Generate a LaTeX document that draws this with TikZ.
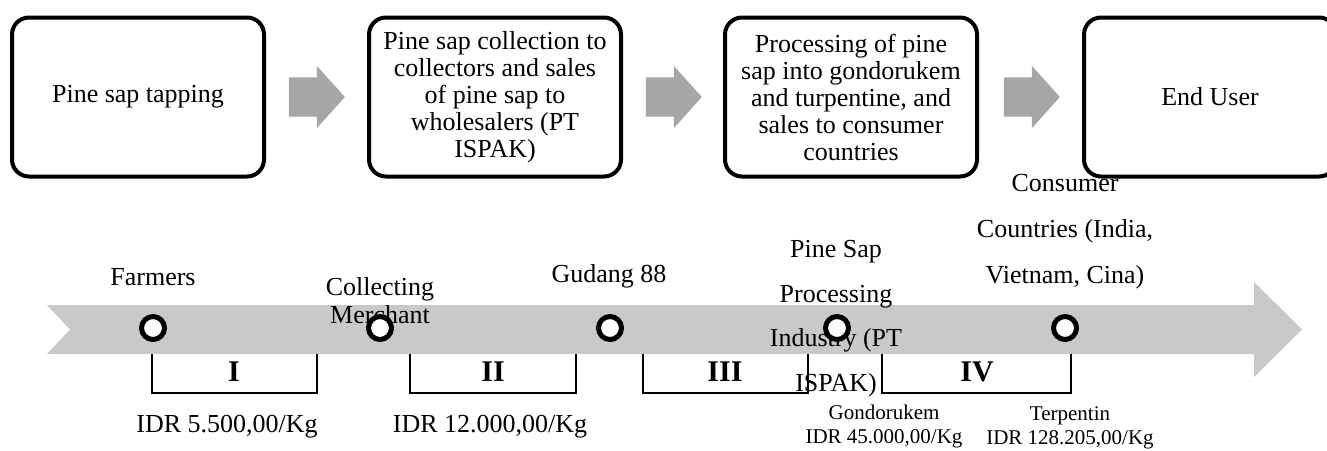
\documentclass[tikz,border=0pt]{standalone}
\usepackage{fontspec}
\setmainfont{Liberation Serif}
\usetikzlibrary{shapes.arrows}
\definecolor{arrowgray}{HTML}{A6A6A6}
\definecolor{bandgray}{HTML}{C9C9C9}
\tikzset{
  stagebox/.style={draw, line width=4pt, rounded corners=17pt, minimum width=252pt,
    minimum height=159pt, inner sep=0pt, align=center, font=\fontsize{26}{27}\selectfont},
  stagearrow/.style={single arrow, fill=arrowgray, minimum height=56pt, inner xsep=0pt, inner ysep=19.5pt,
    single arrow head extend=11.5pt, single arrow tip angle=96, single arrow head indent=0pt},
  actor/.style={circle, draw, fill=white, line width=5pt, minimum size=23pt, inner sep=0pt},
  actorname/.style={align=center, inner sep=0pt},
  price/.style={align=center, inner sep=0pt},
  bracketline/.style={line width=2pt},
}
\begin{document}
\begin{tikzpicture}[x=1pt, y=-1pt, font=\fontsize{26}{28}\selectfont]
\useasboundingbox (0,0) rectangle (1327,450);
%
\node [stagebox] (s1) at (138,97) {Pine sap tapping};
\node [stagebox] (s2) at (495,97) {Pine sap collection to\\collectors and sales\\of pine sap to\\wholesalers (PT\\ISPAK)};
\node [stagebox] (s3) at (851,97) {Processing of pine\\sap into gondorukem\\and turpentine, and\\sales to consumer\\countries};
\node [stagebox] (s4) at (1210,97) {End User};
%
\node [stagearrow] (a1) at (308,97) {};
\node [stagearrow] (a2) at (665,97) {};
\node [stagearrow] (a3) at (1023,97) {};
%
\fill [bandgray] (47,305) -- (1254,305) -- (1254,282) -- (1302,329.5) -- (1254,377)
  -- (1254,354) -- (47,354) -- (70,329.5) -- cycle;
%
\node [actorname] (l1) at (153,277) {Farmers};
\node [actorname] (l2) at (380,301) {Collecting\\Merchant};
\node [actorname] (l3) at (609,276) {Gudang 88};
\node [actorname, font=\fontsize{26}{44.5}\selectfont] (l4) at (836,318.5) {Pine Sap\\Processing\\Industry (PT\\ISPAK)};
\node [actorname, font=\fontsize{26}{46}\selectfont] (l5) at (1065,231.5) {Consumer\\Countries (India,\\Vietnam, Cina)};
%
\node [actor] (1) at (153,328) {};
\node [actor] (2) at (380,328) {};
\node [actor] (3) at (610,328) {};
\node [actor] (4) at (837,328) {};
\node [actor] (5) at (1065,328) {};
%
\node [font=\fontsize{30}{30}\selectfont\bfseries] (p1) at (234,372) {I};
\node [font=\fontsize{30}{30}\selectfont\bfseries] (p2) at (493,372) {II};
\node [font=\fontsize{30}{30}\selectfont\bfseries] (p3) at (725,372) {III};
\node [font=\fontsize{30}{30}\selectfont\bfseries] (p4) at (977,372) {IV};
\draw [bracketline] (152,354) |- (317,393) -- (317,354);
\draw [bracketline] (410,354) |- (576,393) -- (576,354);
\draw [bracketline] (643,354) |- (808,393) -- (808,354);
\draw [bracketline] (882,354) |- (1071,393) -- (1071,354);
%
\node [price] (r1) at (227,427) {IDR 5.500,00/Kg};
\node [price] (r2) at (490,427) {IDR 12.000,00/Kg};
\node [price, font=\fontsize{21}{23.5}\selectfont] (r3) at (884,426.5) {Gondorukem\\IDR 45.000,00/Kg};
\node [price, font=\fontsize{21}{24}\selectfont] (r4) at (1070,428) {Terpentin\\IDR 128.205,00/Kg};
\end{tikzpicture}
\end{document}
